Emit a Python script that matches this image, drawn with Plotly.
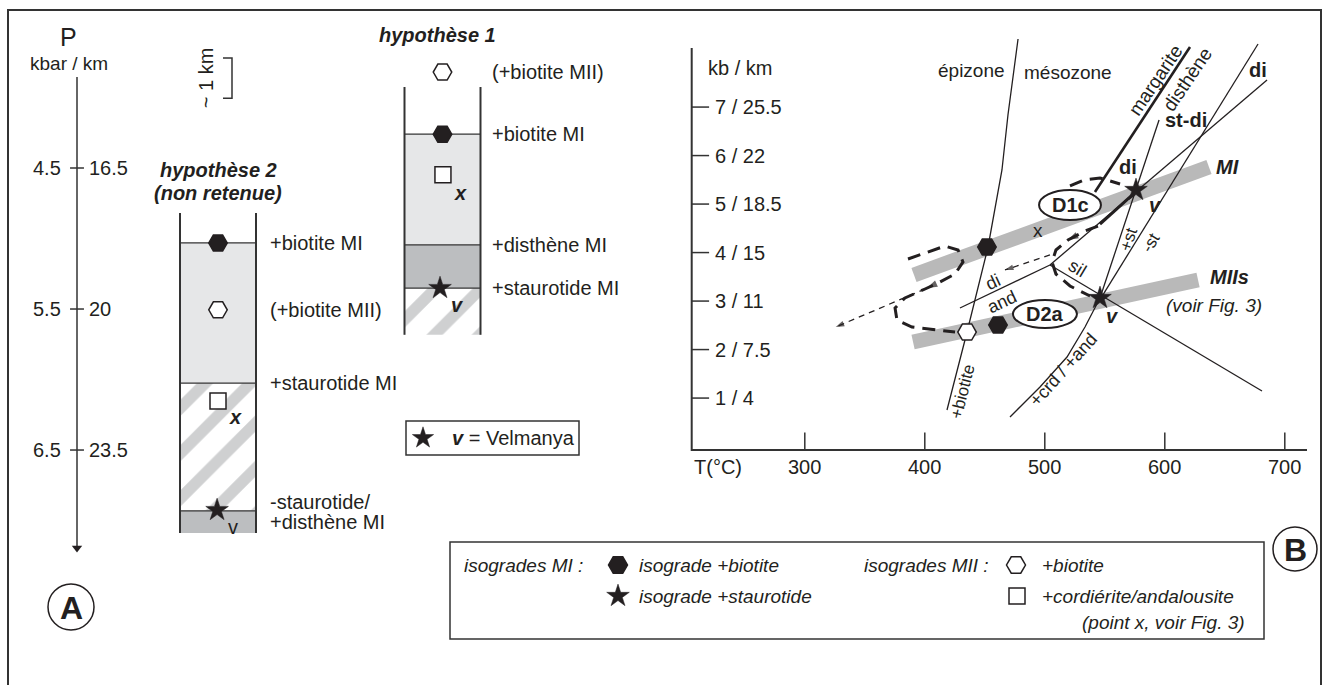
import plotly.graph_objects as go

W, H = 1329, 685
FONT = "Liberation Sans, Arial, Helvetica, sans-serif"
INK = "#231f20"
LIGHT = "#e6e7e8"
MID = "#bcbec0"
STRIPE = "#9fa1a4"
BAND = "#b9b9b9"

# ================= PANEL A data (depth in km) =================
depth_tick_km = [16.5, 20.0, 23.5]
depth_tick_kbar = ["4.5", "5.5", "6.5"]
depth_tick_kmlab = ["16.5", "20", "23.5"]
depth_axis_km = [14.24, 25.93]
scale_bar_km = [13.77, 14.77]

hyp_x = [1, 2]                       # hypothèse 2, hypothèse 1
hyp2_bounds = [17.62, 18.36, 21.84, 25.01, 25.56]
hyp2_fill = ["none", "light", "hatch", "mid"]
hyp1_bounds = [14.49, 15.66, 18.41, 19.48, 20.64]
hyp1_fill = ["none", "light", "mid", "hatch"]

hyp2_label_text = ["+biotite MI", "(+biotite MII)", "+staurotide MI", "-staurotide/", "+disthène MI"]
hyp2_label_km = [18.36, 20.02, 21.84, 24.79, 25.29]
hyp1_label_text = ["(+biotite MII)", "+biotite MI", "+disthène MI", "+staurotide MI"]
hyp1_label_km = [14.12, 15.66, 18.41, 19.48]

hyp2_biotMI_km, hyp2_biotMII_km, hyp2_square_km, hyp2_star_km = 18.36, 20.02, 22.28, 24.99
hyp1_biotMII_km, hyp1_biotMI_km, hyp1_square_km, hyp1_star_km = 14.12, 15.66, 16.67, 19.48

# ================= PANEL B data (T °C, P kbar) =================
P_ticks = [7, 6, 5, 4, 3, 2, 1]
P_tick_labels = ["7 / 25.5", "6 / 22", "5 / 18.5", "4 / 15", "3 / 11", "2 / 7.5", "1 / 4"]
T_ticks = [300, 400, 500, 600, 700]
T_axis = [205.75, 718.5]
P_axis = [-0.07, 8.22]

epi_T = [477.7, 469.3, 464.3, 452.7, 435.2, 418.5]
epi_P = [8.403, 6.837, 5.703, 4.115, 2.362, 0.754]
marg_T = [621.0, 541.8]
marg_P = [8.238, 5.249]
pst_T = [595.2, 546.0]
pst_P = [6.733, 3.063]
mst_T = [677.7, 546.5]
mst_P = [8.300, 3.050]
disil_T = [685.2, 504.3]
disil_P = [7.558, 3.744]
sil_T = [504.3, 681.0]
sil_P = [3.744, 1.146]
diand_T = [429.3, 504.3]
diand_P = [2.857, 3.744]
crd_T = [546.0, 533.5, 518.5, 496.0, 471.0]
crd_P = [3.063, 2.465, 1.847, 1.228, 0.609]

MI_T = [391.0, 636.8]
MI_P = [3.538, 5.764]
MII_T = [390.2, 627.7]
MII_P = [2.156, 3.434]

biotMI_T = [451.8, 461.0]
biotMI_P = [4.115, 2.506]
biotMII_T = [435.2]
biotMII_P = [2.362]
star_T = [576.0, 546.0]
star_P = [5.290, 3.063]

pathL_T = [386.0, 400.2, 416.8, 427.7, 431.8, 425.2, 412.7, 400.2, 383.5, 375.2, 376.8, 389.3, 408.5, 425.2]
pathL_P = [3.867, 3.991, 4.135, 4.053, 3.806, 3.558, 3.394, 3.249, 3.064, 2.857, 2.610, 2.465, 2.403, 2.362]
pathR_T = [544.3, 533.5, 519.3, 509.3, 506.0, 509.3, 521.0, 537.7]
pathR_P = [4.547, 4.444, 4.259, 4.053, 3.806, 3.558, 3.311, 3.105]
arc_T = [521.0, 532.7, 546.0, 562.7]
arc_P = [5.373, 5.496, 5.538, 5.414]
solid_T = [546.0, 572.7]
solid_P = [4.586, 5.184]
thin1_T = [504.3, 466.8]
thin1_P = [3.950, 3.641]
thin2_T = [400.2, 325.8]
thin2_P = [3.249, 2.465]

D1c_T = [495.2, 546.8]
D1c_P = [4.671, 5.290]
D2a_T = [473.5, 526.8]
D2a_P = [2.445, 3.022]

# ================= layout calibration (pixel geometry) =================
def T_of(px):
    return 500 + (px - 1044.8) / 1.2


def P_of(py):
    return 4 - (py - 252.57) / 48.5


def km_of(py):
    return 16.5 + (py - 168) / 40.29


def xa_of(px):
    return 1 + (px - 218) / 224.5


fig = go.Figure()
annotations = []
shapes = []


def ann(x, y, text, size=20, xref="x", yref="y", angle=0, xanchor="center",
        yanchor="middle", family=FONT, color=INK):
    annotations.append(dict(x=x, y=y, text=text, xref=xref, yref=yref, showarrow=False,
                            textangle=angle, xanchor=xanchor, yanchor=yanchor,
                            font=dict(size=size, color=color, family=family)))


def line(xs, ys, width=1.3, color=INK, dash=None, ax="x", ay="y"):
    fig.add_trace(go.Scatter(x=xs, y=ys, mode="lines", xaxis=ax, yaxis=ay,
                             line=dict(width=width, color=color, dash=dash),
                             hoverinfo="skip"))


def markers(xs, ys, symbol, size, fill=INK, lc=INK, lw=1.5, ax="x", ay="y", angle=0, angleref="up"):
    fig.add_trace(go.Scatter(x=xs, y=ys, mode="markers", xaxis=ax, yaxis=ay,
                             marker=dict(symbol=symbol, size=size, color=fill, angle=angle,
                                         angleref=angleref,
                                         line=dict(color=lc, width=lw)),
                             hoverinfo="skip"))


# ---------------- PANEL A ----------------
HW = (xa_of(256) - xa_of(180)) / 2


def layer_marker(kind):
    if kind == "light":
        return dict(color=LIGHT, line=dict(width=0))
    if kind == "mid":
        return dict(color=MID, line=dict(width=0))
    return dict(color="white", line=dict(width=0),
                pattern=dict(shape="/", fgcolor=STRIPE, bgcolor="white", size=32, solidity=0.36))


for hx, bounds, kinds in [(hyp_x[0], hyp2_bounds, hyp2_fill), (hyp_x[1], hyp1_bounds, hyp1_fill)]:
    for i, k in enumerate(kinds):
        if k == "none":
            continue
        fig.add_trace(go.Bar(x=[hx], y=[bounds[i + 1] - bounds[i]], base=[bounds[i]], width=2 * HW,
                             marker=layer_marker(k), xaxis="x2", yaxis="y2", hoverinfo="skip"))
    line([hx - HW, hx - HW, None, hx + HW, hx + HW], [bounds[0], bounds[-1], None, bounds[0], bounds[-1]],
         width=2, color="#333333", ax="x2", ay="y2")
    xs, ys = [], []
    for b in bounds[1:-1]:
        xs += [hx - HW, hx + HW, None]
        ys += [b, b, None]
    line(xs, ys, width=1.2, color="#333333", ax="x2", ay="y2")

markers([hyp_x[0], hyp_x[1]], [hyp2_biotMI_km, hyp1_biotMI_km], "hexagon2", 18.5, ax="x2", ay="y2")
markers([hyp_x[0], hyp_x[1]], [hyp2_biotMII_km, hyp1_biotMII_km], "hexagon2", 18.5, fill="white", ax="x2", ay="y2")
markers([hyp_x[0], hyp_x[1] + 0.002], [hyp2_square_km, hyp1_square_km], "square", 16, fill="white", ax="x2", ay="y2")
markers([hyp_x[0] - 0.004, hyp_x[1] - 0.011], [hyp2_star_km, hyp1_star_km], "star", 17, ax="x2", ay="y2", lw=0.5)

for t, k in zip(hyp2_label_text, hyp2_label_km):
    ann(hyp_x[0] + 0.222, k, t, 20, "x2", "y2", xanchor="left")
for t, k in zip(hyp1_label_text, hyp1_label_km):
    ann(hyp_x[1] + 0.212, k, t, 20, "x2", "y2", xanchor="left")
ann(hyp_x[0] + 0.076, hyp2_square_km + 0.40, "<b><i>x</i></b>", 20, "x2", "y2")
ann(hyp_x[1] + 0.078, hyp1_square_km + 0.45, "<b><i>x</i></b>", 20, "x2", "y2")
ann(hyp_x[0] + 0.067, hyp2_star_km + 0.42, "v", 20, "x2", "y2")
ann(hyp_x[1] + 0.069, hyp1_star_km + 0.42, "<b><i>v</i></b>", 20, "x2", "y2")

ann(hyp_x[0], km_of(170), "<b><i>hypothèse 2</i></b>", 20, "x2", "y2")
ann(hyp_x[0], km_of(193), "<b><i>(non retenue)</i></b>", 20, "x2", "y2")
ann(xa_of(437), km_of(35), "<b><i>hypothèse 1</i></b>", 20, "x2", "y2")

AX = xa_of(77)
line([AX, AX], depth_axis_km, width=1.5, color="#333333", ax="x2", ay="y2")
markers([AX], [depth_axis_km[1]], "triangle-down", 9, lw=0, ax="x2", ay="y2")
tx, ty = [], []
for k in depth_tick_km:
    tx += [AX - 0.031, AX + 0.031, None]
    ty += [k, k, None]
line(tx, ty, width=1.5, color="#333333", ax="x2", ay="y2")
for k, lb, lk in zip(depth_tick_km, depth_tick_kbar, depth_tick_kmlab):
    ann(xa_of(63), k, lb, 20, "x2", "y2", xanchor="right")
    ann(xa_of(87), k, lk, 20, "x2", "y2", xanchor="left")
ann(xa_of(68), km_of(37), "P", 25, "x2", "y2")
ann(xa_of(69), km_of(63), "kbar / km", 19, "x2", "y2")

SB = xa_of(232)
SB0 = xa_of(223)
line([SB0, SB, SB, SB0], [scale_bar_km[0], scale_bar_km[0], scale_bar_km[1], scale_bar_km[1]],
     width=1.5, color="#333333", ax="x2", ay="y2")
ann(xa_of(206), (scale_bar_km[0] + scale_bar_km[1]) / 2, "~ 1 km", 20, "x2", "y2", angle=-90)

# ---------------- PANEL B ----------------
line(MI_T, MI_P, width=15, color=BAND)
line(MII_T, MII_P, width=15, color=BAND)

line([T_axis[0], T_axis[0], T_axis[1]], [P_axis[1], P_axis[0], P_axis[0]], width=2, color="#333333")
tx, ty = [], []
for p in P_ticks:
    tx += [T_axis[0], T_axis[0] + 14.5, None]
    ty += [p, p, None]
for t in T_ticks:
    tx += [t, t, None]
    ty += [P_axis[0], P_axis[0] + 0.36, None]
line(tx, ty, width=1.5, color="#333333")
for p, lb in zip(P_ticks, P_tick_labels):
    ann(T_of(713), p, lb, 20, xanchor="left")
for t in T_ticks:
    ann(t, P_of(467), str(t), 20)
ann(T_of(692), P_of(467), "T(°C)", 20, xanchor="left")
ann(T_of(706), P_of(68), "kb / km", 20, xanchor="left")

line(epi_T, epi_P, 1.3)
line(marg_T, marg_P, 2.6)
line(pst_T, pst_P, 1.3)
line(mst_T, mst_P, 1.3)
line(disil_T, disil_P, 1.3)
line(sil_T, sil_P, 1.3)
line(diand_T, diand_P, 1.3)
line(crd_T, crd_P, 1.3)

line(pathL_T, pathL_P, 3, dash="13px,8px")
line(pathR_T, pathR_P, 3, dash="13px,8px")
line(arc_T, arc_P, 3, dash="13px,8px")
line(solid_T, solid_P, 3)
line(thin1_T, thin1_P, 1.3, dash="6px,5px")
line(thin2_T, thin2_P, 1.3, dash="6px,5px")
markers([thin1_T[0], thin1_T[1]], [thin1_P[0], thin1_P[1]], "arrow", [0, 9], lw=0, angleref="previous")
markers([thin2_T[0], thin2_T[1]], [thin2_P[0], thin2_P[1]], "arrow", [0, 9], lw=0, angleref="previous")
markers([pathL_T[6], 401.8], [pathL_P[6], 3.27], "arrow", [0, 11], lw=0, angleref="previous")
markers([pathR_T[1], 519.3], [pathR_P[1], 4.259], "arrow", [0, 11], lw=0, angleref="previous")

markers(biotMI_T, biotMI_P, "hexagon2", 18.5)
markers(biotMII_T, biotMII_P, "hexagon2", 18.5, fill="white")
markers(star_T, star_P, "star", 17, lw=0.5)

for Ts, Ps in [(D1c_T, D1c_P), (D2a_T, D2a_P)]:
    shapes.append(dict(type="circle", xref="x", yref="y", x0=Ts[0], x1=Ts[1], y0=Ps[0], y1=Ps[1],
                       fillcolor="white", line=dict(color=INK, width=2), layer="above"))

ann(T_of(971), P_of(70), "épizone", 19)
ann(T_of(1067.5), P_of(72), "mésozone", 19)
ann(T_of(1155), P_of(80), "margarite", 19, angle=-56)
ann(T_of(1187), P_of(79), "disthène", 19, angle=-56)
ann(T_of(1186), P_of(120), "<b>st-di</b>", 20)
ann(T_of(1258), P_of(70), "<b>di</b>", 20)
ann(T_of(1127.5), P_of(167), "<b>di</b>", 20)
ann(T_of(1227.5), P_of(167), "<b><i>MI</i></b>", 20)
ann(sum(D1c_T) / 2, sum(D1c_P) / 2, "<b>D1c</b>", 20)
ann(sum(D2a_T) / 2, sum(D2a_P) / 2, "<b>D2a</b>", 20)
ann(T_of(1038), P_of(230), "x", 19)
ann(T_of(1155), P_of(205), "<b><i>v</i></b>", 20)
ann(T_of(1112), P_of(316), "<b><i>v</i></b>", 20)
ann(T_of(1128), P_of(240), "+st", 17, angle=-72)
ann(T_of(1150), P_of(243), "-st", 17, angle=-59)
ann(T_of(1077), P_of(268), "sil", 18, angle=31)
ann(T_of(993), P_of(282), "di", 18, angle=-25)
ann(T_of(1002), P_of(302), "and", 18, angle=-25)
ann(T_of(1229), P_of(277), "<b><i>MIIs</i></b>", 20)
ann(T_of(1214), P_of(305), "<i>(voir Fig. 3)</i>", 19)
ann(T_of(962), P_of(392), "+biotite", 17, angle=-76)
ann(T_of(1063), P_of(370), "+crd / +and", 18, angle=-48)

# ---------------- frame, legend, decorations (pixel axis x3/y3) ----------------
def rect(x0, y0, x1, y1, w=1.5):
    shapes.append(dict(type="rect", xref="x3", yref="y3", x0=x0, y0=y0, x1=x1, y1=y1,
                       line=dict(color="#333333", width=w), fillcolor="rgba(0,0,0,0)", layer="above"))


def circ(cx, cy, r):
    shapes.append(dict(type="circle", xref="x3", yref="y3", x0=cx - r, x1=cx + r, y0=cy - r, y1=cy + r,
                       line=dict(color=INK, width=1.5), layer="above"))


rect(8, 10, 1321, 692, 2)
rect(406, 421, 579, 455)
markers([423], [438], "star", 16, lw=0.5, ax="x3", ay="y3")
ann(450, 438, "<b><i>v</i></b> = Velmanya", 20, "x3", "y3", xanchor="left")

LF = 19
rect(450, 542, 1264, 639)
ann(462, 565, "<i>isogrades MI :</i>", LF, "x3", "y3", xanchor="left")
markers([618], [565], "hexagon2", 19, ax="x3", ay="y3")
ann(637, 565, "<i>isograde +biotite</i>", LF, "x3", "y3", xanchor="left")
markers([618], [596], "star", 17, lw=0.5, ax="x3", ay="y3")
ann(637, 596, "<i>isograde +staurotide</i>", LF, "x3", "y3", xanchor="left")
ann(862, 565, "<i>isogrades MII :</i>", LF, "x3", "y3", xanchor="left")
markers([1016], [565], "hexagon2", 19, fill="white", ax="x3", ay="y3")
ann(1040, 565, "<i>+biotite</i>", LF, "x3", "y3", xanchor="left")
markers([1017], [596], "square", 16, fill="white", ax="x3", ay="y3")
ann(1040, 596, "<i>+cordiérite/andalousite</i>", LF, "x3", "y3", xanchor="left")
ann(1247, 622, "<i>(point x, voir Fig. 3)</i>", LF, "x3", "y3", xanchor="right")

circ(71, 607, 23)
ann(71, 608, "<b>A</b>", 32, "x3", "y3")
circ(1295, 549, 22)
ann(1295, 550, "<b>B</b>", 32, "x3", "y3")

hidden = dict(visible=False, showgrid=False, zeroline=False, fixedrange=True)
fig.update_layout(
    width=W, height=H, margin=dict(l=0, r=0, t=0, b=0),
    paper_bgcolor="white", plot_bgcolor="rgba(0,0,0,0)",
    showlegend=False, barmode="overlay",
    xaxis=dict(domain=[670 / W, 1], range=[T_of(670), T_of(W)], **hidden),
    yaxis=dict(domain=[(H - 470) / H, 1], range=[P_of(470), P_of(0)], **hidden),
    xaxis2=dict(domain=[0, 0.5], range=[xa_of(0), xa_of(0.5 * W)], **hidden),
    yaxis2=dict(domain=[0, 1], range=[km_of(H), km_of(0)], **hidden),
    xaxis3=dict(domain=[0, 1], range=[0, W], **hidden),
    yaxis3=dict(domain=[0, 1], range=[H, 0], **hidden),
    annotations=annotations, shapes=shapes,
)
fig.write_html("out.html", config={"displayModeBar": False},
               post_script="document.body.style.margin='0px';document.body.style.overflow='hidden';")
